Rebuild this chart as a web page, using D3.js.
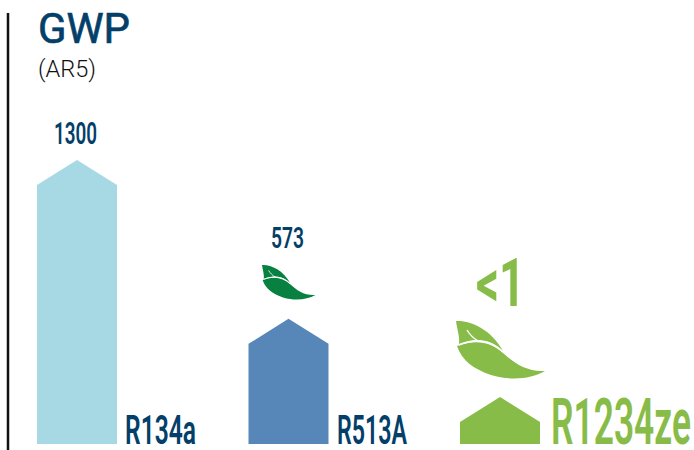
<!DOCTYPE html>
<html>
<head>
<meta charset="utf-8">
<script src="https://cdn.jsdelivr.net/npm/d3@7"></script>
<style>
    html, body { margin: 0; padding: 0; background: #fff; }
    svg { display: block; }
    text { font-family: Roboto, sans-serif; }
</style>
</head>
<body>
<div id="chart"></div>
<script>
// Refrigerants and their printed GWP labels
const refrigerants = ['R134a', 'R513A', 'R1234ze'];
const gwpLabels = ['1300', '573', '<1'];
// Height of each bar as drawn, in GWP units. The <1 bar is drawn far taller than its value
const drawnHeights = [1300, 573, 215];

const barColors = ['#a6d9e4', '#5687b8', '#88bc49'];
const navy = '#033f68';
const green = '#88bc49';

const width = 694, height = 450;
const svg = d3.select('#chart').append('svg')
    .attr('width', width)
    .attr('height', height);

const barWidth = 80;
const barLeft = d3.scalePoint().domain(refrigerants).range([37, 460]);
const y = d3.scaleLinear().domain([0, 1300]).range([444, 160]);
const roof = 25;

// Axis line on the left
svg.append('line')
    .attr('x1', 8).attr('x2', 8)
    .attr('y1', 13).attr('y2', height)
    .attr('stroke', '#111')
    .attr('stroke-width', 2.5);

// Title
svg.append('text')
    .attr('x', 38).attr('y', 43)
    .attr('font-size', 43)
    .attr('font-weight', 400)
    .attr('fill', navy)
    .attr('stroke', navy)
    .attr('stroke-width', 0.7)
    .attr('textLength', 92)
    .attr('lengthAdjust', 'spacingAndGlyphs')
    .text('GWP');
svg.append('text')
    .attr('x', 38).attr('y', 77)
    .attr('font-size', 24)
    .attr('font-weight', 300)
    .attr('fill', '#111')
    .attr('textLength', 58)
    .attr('lengthAdjust', 'spacingAndGlyphs')
    .text('(AR5)');

// House shaped bars
const bars = refrigerants.map((name, i) => ({ name, i, value: drawnHeights[i] }));
svg.selectAll('path.bar')
    .data(bars)
    .join('path')
    .attr('class', 'bar')
    .attr('fill', d => barColors[d.i])
    .attr('d', d => {
        const l = barLeft(d.name), r = l + barWidth, top = y(d.value);
        return d3.line()([[l, y(0)], [l, top + roof], [l + barWidth / 2, top], [r, top + roof], [r, y(0)]]) + 'Z';
    });

// Value labels
const valueStyle = [
    { x: 54, y: 144, size: 31, w: 43, weight: 600, fill: navy },
    { x: 271, y: 248, size: 30, w: 33, weight: 600, fill: navy },
    { x: 476, y: 306, size: 66, w: 49, weight: 700, fill: green }
];
svg.selectAll('text.value')
    .data(gwpLabels)
    .join('text')
    .attr('class', 'value')
    .attr('x', (d, i) => valueStyle[i].x)
    .attr('y', (d, i) => valueStyle[i].y)
    .attr('font-size', (d, i) => valueStyle[i].size)
    .attr('font-weight', (d, i) => valueStyle[i].weight)
    .attr('fill', (d, i) => valueStyle[i].fill)
    .attr('textLength', (d, i) => valueStyle[i].w)
    .attr('lengthAdjust', 'spacingAndGlyphs')
    .text(d => d);

// Name labels next to the bars
const nameStyle = [
    { x: 125, size: 40, w: 71, fill: navy },
    { x: 337, size: 40, w: 70, fill: navy },
    { x: 551, size: 65, w: 140, fill: green }
];
svg.selectAll('text.name')
    .data(refrigerants)
    .join('text')
    .attr('class', 'name')
    .attr('x', (d, i) => nameStyle[i].x)
    .attr('y', 444)
    .attr('font-size', (d, i) => nameStyle[i].size)
    .attr('font-weight', 600)
    .attr('fill', (d, i) => nameStyle[i].fill)
    .attr('textLength', (d, i) => nameStyle[i].w)
    .attr('lengthAdjust', 'spacingAndGlyphs')
    .text(d => d);

// Leaf icon, drawn at the size of the big one and scaled for the small one
function leaf(px, py, k, color) {
    const g = svg.append('g').attr('transform', 'translate(' + px + ',' + py + ') scale(' + k + ')');
    g.append('path').attr('fill', color)
        .attr('d', 'M0,0 C14,-1 35,8 47,30 C35,18 20,16 3,23 C4,16 1,8 0,0 Z');
    g.append('path').attr('fill', color)
        .attr('d', 'M1,25 C20,18 35,21 47,32 C58,42 70,51 89,50 C75,58 55,60 35,54 C18,48 6,40 1,25 Z');
    g.append('path').attr('fill', 'none').attr('stroke', '#fff').attr('stroke-width', 1.4)
        .attr('d', 'M11,9 C14,14 17,17 22,20 M3,24 C20,17 35,19 47,31');
}
leaf(456, 321, 1, green);
leaf(262, 265, 0.6, '#078040');
</script>
</body>
</html>
